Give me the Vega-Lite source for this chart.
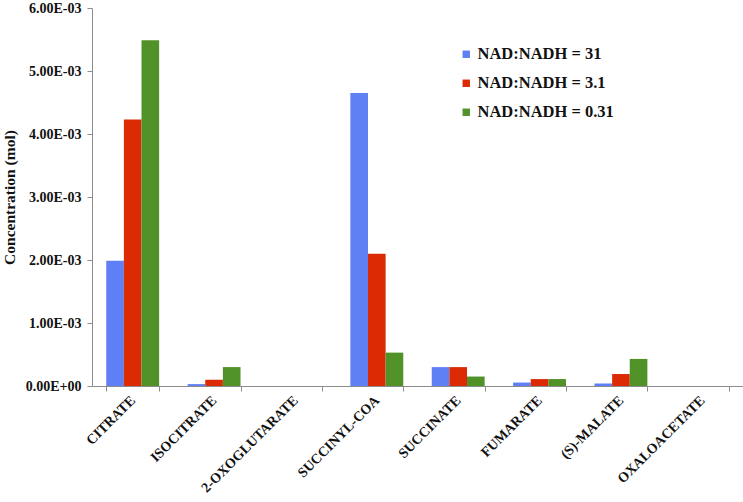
{
  "$schema": "https://vega.github.io/schema/vega-lite/v6.json",
  "width": 651,
  "height": 378,
  "autosize": {"type": "none"},
  "padding": {"left": 92, "top": 8, "right": 0, "bottom": 116},
  "background": "white",
  "config": {"view": {"stroke": null}, "font": "Liberation Serif"},
  "data": {
    "values": [
      {"metabolite": "CITRATE", "ratio": "NAD:NADH = 31", "conc": 0.00199},
      {"metabolite": "CITRATE", "ratio": "NAD:NADH = 3.1", "conc": 0.00423},
      {"metabolite": "CITRATE", "ratio": "NAD:NADH = 0.31", "conc": 0.00549},
      {"metabolite": "ISOCITRATE", "ratio": "NAD:NADH = 31", "conc": 0.00003},
      {"metabolite": "ISOCITRATE", "ratio": "NAD:NADH = 3.1", "conc": 0.0001},
      {"metabolite": "ISOCITRATE", "ratio": "NAD:NADH = 0.31", "conc": 0.0003},
      {"metabolite": "2-OXOGLUTARATE", "ratio": "NAD:NADH = 31", "conc": 0},
      {"metabolite": "2-OXOGLUTARATE", "ratio": "NAD:NADH = 3.1", "conc": 0},
      {"metabolite": "2-OXOGLUTARATE", "ratio": "NAD:NADH = 0.31", "conc": 0},
      {"metabolite": "SUCCINYL-COA", "ratio": "NAD:NADH = 31", "conc": 0.00465},
      {"metabolite": "SUCCINYL-COA", "ratio": "NAD:NADH = 3.1", "conc": 0.0021},
      {"metabolite": "SUCCINYL-COA", "ratio": "NAD:NADH = 0.31", "conc": 0.00053},
      {"metabolite": "SUCCINATE", "ratio": "NAD:NADH = 31", "conc": 0.0003},
      {"metabolite": "SUCCINATE", "ratio": "NAD:NADH = 3.1", "conc": 0.0003},
      {"metabolite": "SUCCINATE", "ratio": "NAD:NADH = 0.31", "conc": 0.00015},
      {"metabolite": "FUMARATE", "ratio": "NAD:NADH = 31", "conc": 0.000055},
      {"metabolite": "FUMARATE", "ratio": "NAD:NADH = 3.1", "conc": 0.00011},
      {"metabolite": "FUMARATE", "ratio": "NAD:NADH = 0.31", "conc": 0.00011},
      {"metabolite": "(S)-MALATE", "ratio": "NAD:NADH = 31", "conc": 0.00004},
      {"metabolite": "(S)-MALATE", "ratio": "NAD:NADH = 3.1", "conc": 0.00019},
      {"metabolite": "(S)-MALATE", "ratio": "NAD:NADH = 0.31", "conc": 0.00043},
      {"metabolite": "OXALOACETATE", "ratio": "NAD:NADH = 31", "conc": 0},
      {"metabolite": "OXALOACETATE", "ratio": "NAD:NADH = 3.1", "conc": 0},
      {"metabolite": "OXALOACETATE", "ratio": "NAD:NADH = 0.31", "conc": 0}
    ]
  },
  "mark": {"type": "bar"},
  "encoding": {
    "x": {
      "field": "metabolite",
      "type": "nominal",
      "sort": null,
      "scale": {"paddingInner": 0.35, "paddingOuter": 0.175},
      "axis": {
        "title": null,
        "labelAngle": -45,
        "labelAlign": "right",
        "labelBaseline": "middle",
        "labelFont": "Liberation Serif",
        "labelFontWeight": "bold",
        "labelFontSize": 14,
        "labelColor": "#111111",
        "labelPadding": 7,
        "tickBand": "extent",
        "tickSize": 5,
        "tickColor": "#8c8c8c",
        "domainColor": "#8c8c8c",
        "labelOverlap": false
      }
    },
    "xOffset": {
      "field": "ratio",
      "type": "nominal",
      "sort": ["NAD:NADH = 31", "NAD:NADH = 3.1", "NAD:NADH = 0.31"],
      "scale": {"paddingInner": 0, "paddingOuter": 0}
    },
    "y": {
      "field": "conc",
      "type": "quantitative",
      "scale": {"domain": [0, 0.006], "nice": false},
      "axis": {
        "title": "Concentration (mol)",
        "titleFont": "Liberation Serif",
        "titleFontWeight": "bold",
        "titleFontSize": 15.5,
        "titleColor": "#111111",
        "titlePadding": 8,
        "values": [0, 0.001, 0.002, 0.003, 0.004, 0.005, 0.006],
        "labelExpr": "datum.value == 0 ? '0.00E+00' : replace(format(datum.value, '.2e'), 'e-', 'E-0')",
        "labelFont": "Liberation Serif",
        "labelFontWeight": "bold",
        "labelFontSize": 14,
        "labelColor": "#111111",
        "labelPadding": 6,
        "tickSize": 5,
        "tickColor": "#8c8c8c",
        "domainColor": "#8c8c8c",
        "grid": false
      }
    },
    "color": {
      "field": "ratio",
      "type": "nominal",
      "scale": {
        "domain": ["NAD:NADH = 31", "NAD:NADH = 3.1", "NAD:NADH = 0.31"],
        "range": ["#5f80f5", "#dc2a05", "#509128"]
      },
      "legend": {
        "title": null,
        "orient": "none",
        "legendX": 366,
        "legendY": 38,
        "symbolType": "square",
        "symbolSize": 55,
        "symbolStrokeWidth": 0,
        "labelFont": "Liberation Serif",
        "labelFontWeight": "bold",
        "labelFontSize": 16.5,
        "labelColor": "#111111",
        "labelOffset": 3,
        "rowPadding": 12
      }
    }
  }
}
